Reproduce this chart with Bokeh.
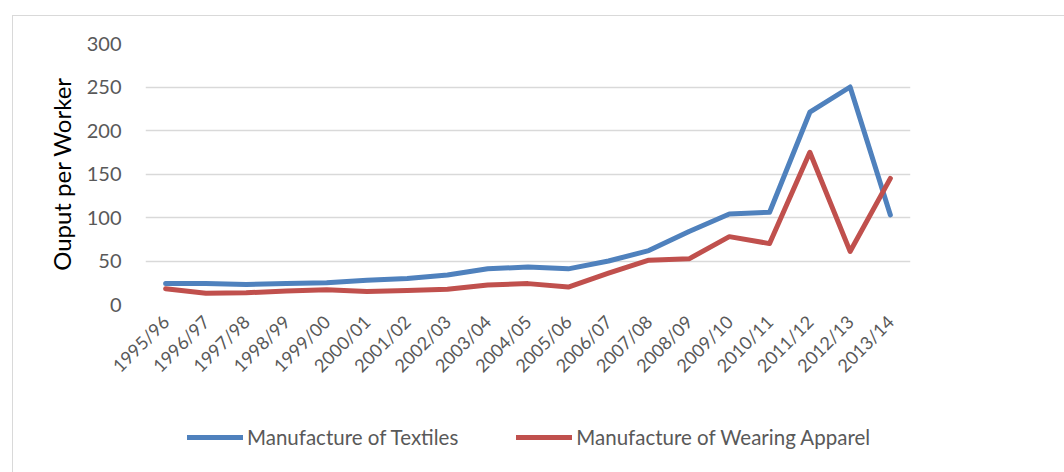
from bokeh.plotting import figure
from bokeh.models import Legend, LegendItem, FactorRange, Range1d, FixedTicker
from bokeh.layouts import column
from bokeh.embed import file_html
from bokeh.resources import INLINE

years = ["1995/96", "1996/97", "1997/98", "1998/99", "1999/00", "2000/01", "2001/02",
         "2002/03", "2003/04", "2004/05", "2005/06", "2006/07", "2007/08", "2008/09",
         "2009/10", "2010/11", "2011/12", "2012/13", "2013/14"]
textiles = [24, 24, 23, 24, 25, 28, 30, 34, 41, 43, 41, 50, 62, 84, 104, 106, 221, 250, 103]
apparel = [18, 13, 13.5, 15.5, 17, 15, 16, 17.5, 22.5, 24, 20, 36, 51, 52.5, 78, 70, 175, 61, 145]
y_ticks = [0, 50, 100, 150, 200, 250, 300]
series_names = ["Manufacture of Textiles", "Manufacture of Wearing Apparel"]
colors = ["#4F81BD", "#C0504D"]

FONT = "Lato"

p = figure(x_range=FactorRange(*years), y_range=Range1d(0, 300),
           frame_width=765, frame_height=261, output_backend="svg", toolbar_location=None,
           min_border_left=132, min_border_right=155, min_border_top=27, min_border_bottom=75)
p.outline_line_color = None
p.background_fill_color = "white"
p.border_fill_color = "white"

r1 = p.line(years, textiles, line_color=colors[0], line_width=5, line_join="round", line_cap="round")
r2 = p.line(years, apparel, line_color=colors[1], line_width=5, line_join="round", line_cap="round")

p.xgrid.grid_line_color = None
p.ygrid.grid_line_color = "#d9d9d9"
p.ygrid.grid_line_width = 1.5
p.yaxis.ticker = FixedTicker(ticks=y_ticks)

for ax in (p.xaxis[0], p.yaxis[0]):
    ax.axis_line_color = None
    ax.major_tick_line_color = None
    ax.minor_tick_line_color = None
    ax.major_label_text_color = "#595959"
    ax.major_label_text_font = FONT

p.yaxis.major_label_text_font_size = "20px"
p.yaxis.major_label_standoff = 18
p.yaxis.axis_label = "Ouput per Worker"
p.yaxis.axis_label_text_font = FONT
p.yaxis.axis_label_text_font_size = "24px"
p.yaxis.axis_label_text_font_style = "normal"
p.yaxis.axis_label_text_color = "#000000"
p.yaxis.axis_label_standoff = 8

p.xaxis.major_label_orientation = 0.785398
p.xaxis.major_label_text_font_size = "18px"
p.xaxis.major_label_standoff = 8

# legend strip below the chart (its frame is aligned with the chart's frame)
q = figure(width=1052, height=94, x_range=Range1d(0, 1), y_range=Range1d(0, 1),
           output_backend="svg", toolbar_location=None,
           min_border_left=132, min_border_right=155, min_border_top=0, min_border_bottom=0)
q.axis.visible = False
q.grid.visible = False
q.outline_line_color = None
q.background_fill_color = "white"
q.border_fill_color = "white"
l1 = q.line(x=[-5, -4], y=[-5, -5], line_color=colors[0], line_width=5, line_cap="round")
l2 = q.line(x=[-5, -4], y=[-5, -5], line_color=colors[1], line_width=5, line_cap="round")

legend = Legend(items=[LegendItem(label=series_names[0], renderers=[l1]),
                       LegendItem(label=series_names[1], renderers=[l2])],
                orientation="horizontal", location=(42, 32),
                border_line_color=None, background_fill_alpha=0,
                glyph_width=56, glyph_height=24, label_standoff=4, spacing=58,
                label_text_font=FONT, label_text_font_size="20.5px", label_text_color="#595959",
                margin=0, padding=0)
q.add_layout(legend, "center")

layout = column(p, q, spacing=0)
layout.margin = (15, 0, 0, 12)
layout.styles = {"border-top": "1.5px solid #d9d9d9", "border-left": "1.5px solid #d9d9d9",
                 "border-right": "1.5px solid #d9d9d9"}

open("out.html", "w").write(file_html(layout, INLINE))
